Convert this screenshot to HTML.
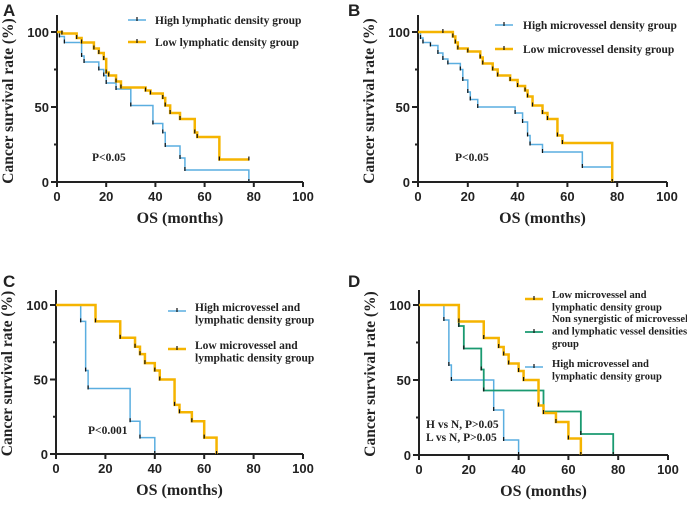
<!DOCTYPE html>
<html><head><meta charset="utf-8"><style>
body{margin:0;background:#fff}
svg text{font-family:"Liberation Serif",serif;font-weight:bold;fill:#222}
.sans{font-family:"Liberation Sans",sans-serif !important}
</style></head><body>
<svg id="c" width="687" height="500" viewBox="0 0 687 500" xmlns="http://www.w3.org/2000/svg"></svg>
<script>
const xTicks=[0,20,40,60,80,100];
const yTicks=[0,50,100];
// Panel A
const aHighT=[0,1,3,10,11,17,19,20,24,30,39,43,44,50,52,78];
const aHighS=[100,97,93,84,80,75,71,66,62,51,39,33,24,16,8,0];
const aLowT=[0,2,8,10,15,17,19,20,21,24,26,36,38,43,44,46,50,56,57,66,78];
const aLowS=[100,99,96,93,89,86,82,73,71,67,63,61,59,56,51,46,42,33,30,15,15];
// Panel B
const bHighT=[0,1,2,5,8,10,12,17,18,20,21,24,39,42,44,45,50,66,78];
const bHighS=[100,96,93,91,86,82,79,75,68,60,55,50,46,40,31,25,20,10,0];
const bLowT=[0,10,14,15,16,20,25,26,30,32,37,40,43,44,46,50,52,56,58,78];
const bLowS=[100,100,97,93,89,87,83,79,75,71,68,64,61,57,51,46,42,31,26,0];
// Panel C / D
const cHighT=[0,10,12,13,30,34,40];
const cHighS=[100,89,56,44,22,11,0];
const cLowT=[0,16,26,32,34,36,40,42,48,50,55,60,65];
const cLowS=[100,89,78,72,67,61,56,50,33,28,22,11,0];
const dHighT=[0,10,12,13,30,34,40];
const dHighS=[100,90,60,50,30,10,0];
const dMidT=[0,16,18,25,26,50,65,78];
const dMidS=[100,86,71,57,43,29,14,0];

const BLUE="#5aaee0",ORANGE="#f5b400",GREEN="#1a9a70";
const svg=document.getElementById('c');
const NS="http://www.w3.org/2000/svg";
function mk(tag,attrs,parent){const e=document.createElementNS(NS,tag);for(const k in attrs)e.setAttribute(k,attrs[k]);(parent||svg).appendChild(e);return e;}
function txt(x,y,s,size,parent,anchor,cls){const t=mk('text',{x:x,y:y,'font-size':size,'text-anchor':anchor||'start'},parent);if(cls)t.setAttribute('class',cls);t.textContent=s;return t;}

function panel(P){
  const g=mk('g',{});
  
  
  const sx=v=>P.x0+(P.x1-P.x0)*v/100, sy=v=>P.y0-(P.y0-P.y1)*v/100;
  const L=txt(P.lx,P.ly,P.letter,17,g,'start','sans');
  
  const ax=mk('path',{d:`M${P.x0},${P.ytop}V${P.y0}H${P.x1}`,stroke:'#222','stroke-width':2,fill:'none'},g);
  
  xTicks.forEach(v=>{mk('line',{x1:sx(v),x2:sx(v),y1:P.y0,y2:P.y0+5,stroke:'#222','stroke-width':2},g);
    const t=txt(sx(v),P.y0+19,String(v),13,g,'middle','sans');});
  [25,75].forEach(v=>mk('line',{x1:P.x0-3,x2:P.x0,y1:sy(v),y2:sy(v),stroke:'#222','stroke-width':2},g));
  yTicks.forEach(v=>{mk('line',{x1:P.x0-6,x2:P.x0,y1:sy(v),y2:sy(v),stroke:'#222','stroke-width':2},g);
    const t=txt(P.x0-8,sy(v)+5,String(v),13,g,'end','sans');});
  const xt=txt((P.x0+P.x1)/2,P.y0+41,'OS (months)',16,g,'middle');
  
  const cy=(P.y0+P.y1)/2-6;
  const yt=txt(0,0,'Cancer survival rate (%)',15.5,g,'middle');
  yt.setAttribute('transform',`translate(${P.x0-44},${cy}) rotate(-90)`);
  
  P.series.forEach(s=>{
    let d=`M${sx(s.t[0])},${sy(s.s[0])}`;
    for(let i=1;i<s.t.length;i++){d+=`H${sx(s.t[i])}V${sy(s.s[i])}`;}
    const p=mk('path',{d:d,stroke:s.c,'stroke-width':s.w,fill:'none'},g);
    
    for(let i=1;i<s.t.length;i++){
      const m=mk('line',{x1:sx(s.t[i]),x2:sx(s.t[i]),y1:sy(s.s[i])-3,y2:sy(s.s[i])+1,stroke:'#111','stroke-width':1.2},g);
      
    }
  });
  P.legend.forEach(l=>{
    const lg=mk('g',{},g);
    
    mk('line',{x1:l.x,x2:l.x+18,y1:l.y,y2:l.y,stroke:l.c,'stroke-width':l.w},lg);
    mk('line',{x1:l.x+9,x2:l.x+9,y1:l.y-3,y2:l.y+1,stroke:'#111','stroke-width':1.2},lg);
    l.lines.forEach((s,i)=>txt(l.tx,l.ty+i*12.5,s,P.fs,lg));
  });
  P.notes.forEach(n=>{const t=txt(n[0],n[1],n[2],11.5,g);});
}
panel({letter:'A',lx:3,ly:16,x0:57,x1:303,y0:182,y1:32,ytop:15,fs:11.5,
 series:[{t:aHighT,s:aHighS,c:BLUE,w:1.5,name:'high-lymphatic-curve'},{t:aLowT,s:aLowS,c:ORANGE,w:2.5,name:'low-lymphatic-curve'}],
 legend:[{x:128,y:20,c:BLUE,w:1.5,tx:155,ty:24,lines:['High lymphatic density group']},{x:128,y:42,c:ORANGE,w:2.5,tx:155,ty:46,lines:['Low lymphatic density group']}],
 notes:[[92,161,'P<0.05']]});
panel({letter:'B',lx:348,ly:16,x0:418,x1:667,y0:182,y1:32,ytop:15,fs:11.5,
 series:[{t:bHighT,s:bHighS,c:BLUE,w:1.5,name:'high-microvessel-curve'},{t:bLowT,s:bLowS,c:ORANGE,w:2.5,name:'low-microvessel-curve'}],
 legend:[{x:495,y:25,c:BLUE,w:1.5,tx:523,ty:29,lines:['High microvessel density group']},{x:495,y:49,c:ORANGE,w:2.5,tx:523,ty:53,lines:['Low microvessel density group']}],
 notes:[[455,161,'P<0.05']]});
panel({letter:'C',lx:3,ly:287,x0:56,x1:303,y0:454,y1:305,ytop:290,fs:11.5,
 series:[{t:cHighT,s:cHighS,c:BLUE,w:1.5,name:'high-both-curve'},{t:cLowT,s:cLowS,c:ORANGE,w:2.5,name:'low-both-curve'}],
 legend:[{x:168,y:311,c:BLUE,w:1.5,tx:195,ty:311,lines:['High microvessel and','lymphatic density group']},{x:168,y:349,c:ORANGE,w:2.5,tx:195,ty:349,lines:['Low microvessel and','lymphatic density group']}],
 notes:[[88,434,'P<0.001']]});
panel({letter:'D',lx:348,ly:287,x0:419,x1:668,y0:455,y1:305,ytop:290,fs:10.6,
 series:[{t:dHighT,s:dHighS,c:BLUE,w:1.5,name:'high-both-curve'},{t:dMidT,s:dMidS,c:GREEN,w:1.8,name:'non-synergistic-curve'},{t:cLowT,s:cLowS,c:ORANGE,w:2.5,name:'low-both-curve'}],
 legend:[{x:525,y:299,c:ORANGE,w:2.5,tx:552,ty:298,lines:['Low microvessel and','lymphatic density group']},
   {x:525,y:332,c:GREEN,w:1.8,tx:552,ty:322,lines:['Non synergistic of microvessel','and lymphatic vessel densities','group']},
   {x:525,y:367,c:BLUE,w:1.5,tx:552,ty:367,lines:['High microvessel and','lymphatic density group']}],
 notes:[[426,428,'H  vs N, P>0.05'],[426,441,'L  vs N, P>0.05']]});
</script>
</body></html>
